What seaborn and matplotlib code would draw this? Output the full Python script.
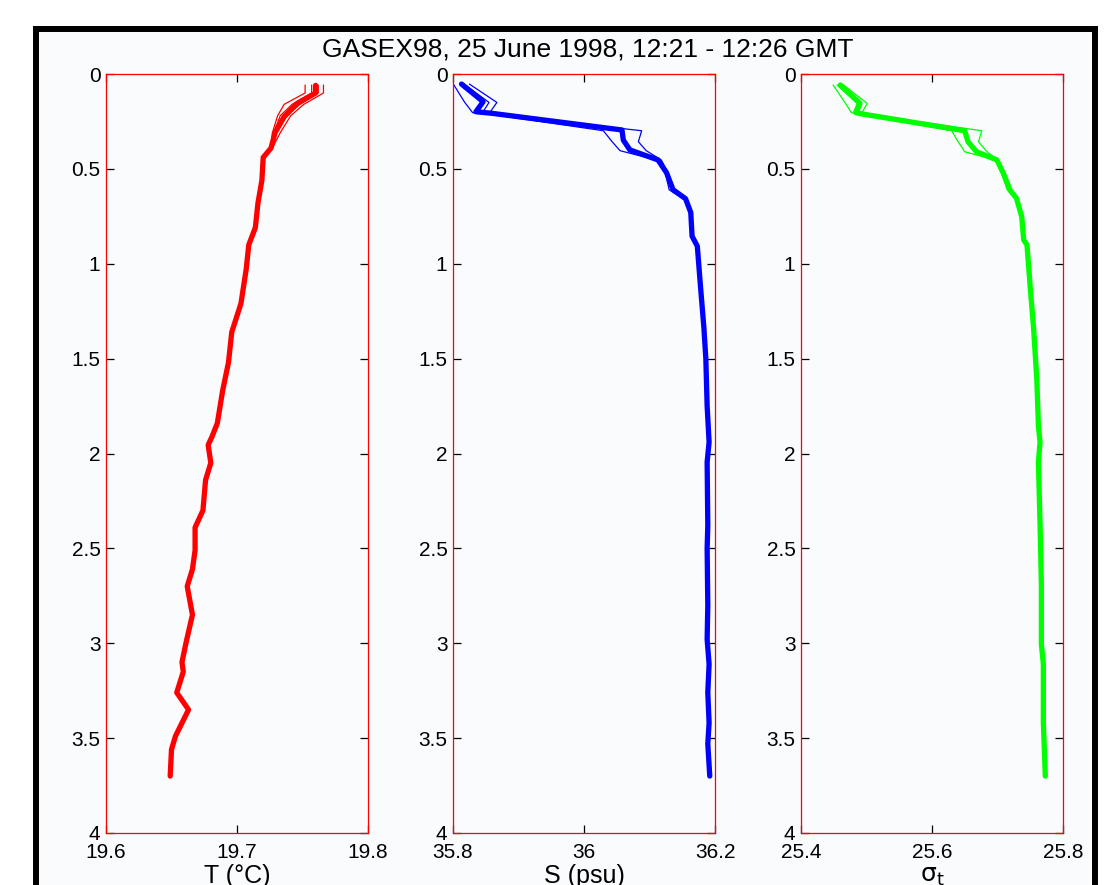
import numpy as np
import matplotlib
matplotlib.use("Agg")
import matplotlib.pyplot as plt
import matplotlib.patches as mpatches
from matplotlib.ticker import FuncFormatter
import seaborn as sns

# ---------------- data ----------------
title = "GASEX98, 25 June 1998, 12:21 - 12:26 GMT"

T_depth = [0.06, 0.10, 0.155, 0.225, 0.31, 0.39, 0.44, 0.56, 0.68, 0.81, 0.90, 1.03,
           1.21, 1.36, 1.52, 1.67, 1.84, 1.91, 1.955, 2.05, 2.14, 2.30, 2.39, 2.51,
           2.61, 2.70, 2.85, 3.00, 3.10, 3.15, 3.26, 3.35, 3.49, 3.56, 3.70]
T_mean = [19.760, 19.760, 19.746, 19.736, 19.729, 19.726, 19.720, 19.719, 19.716,
          19.714, 19.709, 19.707, 19.703, 19.696, 19.6935, 19.689, 19.685, 19.681,
          19.678, 19.680, 19.676, 19.674, 19.668, 19.668, 19.666, 19.662, 19.666,
          19.661, 19.658, 19.659, 19.654, 19.663, 19.653, 19.650, 19.649]
T_cast_depth = [0.058, 0.10, 0.16, 0.22, 0.31, 0.39, 0.44]
T_cast1 = [19.752, 19.752, 19.736, 19.731, 19.727, 19.726, 19.720]
T_cast2 = [19.766, 19.766, 19.751, 19.741, 19.733, 19.727, 19.720]
T_cast3 = [19.757, 19.757, 19.742, 19.733, 19.728, 19.725, 19.720]
T_cast4 = [19.762, 19.762, 19.748, 19.738, 19.730, 19.726, 19.720]

S_depth = [0.053, 0.146, 0.199, 0.207, 0.295, 0.348, 0.40, 0.453, 0.52, 0.61, 0.657,
           0.73, 0.855, 0.907, 1.126, 1.335, 1.50, 1.75, 1.94, 2.045, 2.38, 2.50,
           2.80, 2.98, 3.11, 3.26, 3.42, 3.53, 3.70]
S_mean = [35.813, 35.846, 35.835, 35.859, 36.058, 36.060, 36.070, 36.113, 36.126,
          36.136, 36.155, 36.163, 36.165, 36.173, 36.178, 36.183, 36.186, 36.188,
          36.191, 36.188, 36.189, 36.188, 36.189, 36.188, 36.191, 36.189, 36.191,
          36.189, 36.192]
S_cast_depth = [0.053, 0.15, 0.204, 0.21, 0.299, 0.357, 0.404, 0.453, 0.52, 0.61, 0.657]
S_castA = [35.8005, 35.818, 35.830, 35.853, 36.0295, 36.043, 36.055, 36.110, 36.124, 36.130, 36.151]
S_castB = [35.825, 35.867, 35.856, 35.860, 36.088, 36.083, 36.095, 36.118, 36.128, 36.138, 36.156]
S_castC = [35.817, 35.855, 35.845, 35.860, 36.058, 36.062, 36.075, 36.115, 36.126, 36.136, 36.155]

sig_depth = [0.058, 0.155, 0.204, 0.211, 0.299, 0.357, 0.41, 0.453, 0.523, 0.611, 0.655,
             0.752, 0.875, 0.90, 1.126, 1.335, 1.607, 1.857, 1.94, 2.045, 2.38, 2.69,
             3.005, 3.11, 3.42, 3.70]
sig_mean = [25.460, 25.490, 25.484, 25.494, 25.650, 25.655, 25.668, 25.699, 25.709,
            25.719, 25.729, 25.737, 25.740, 25.745, 25.750, 25.755, 25.760, 25.7625,
            25.765, 25.7625, 25.765, 25.767, 25.767, 25.770, 25.770, 25.773]
sig_cast_depth = [0.058, 0.155, 0.204, 0.211, 0.299, 0.357, 0.41, 0.453, 0.523, 0.611, 0.655]
sig_castA = [25.449, 25.468, 25.477, 25.490, 25.630, 25.640, 25.650, 25.697, 25.706, 25.715, 25.727]
sig_castB = [25.465, 25.501, 25.493, 25.497, 25.676, 25.671, 25.684, 25.701, 25.711, 25.721, 25.730]
sig_castC = [25.455, 25.486, 25.480, 25.492, 25.648, 25.653, 25.666, 25.698, 25.708, 25.718, 25.728]

x_limits = [(19.6, 19.8), (35.8, 36.2), (25.4, 25.8)]
x_ticks = [[19.6, 19.7, 19.8], [35.8, 36.0, 36.2], [25.4, 25.6, 25.8]]
x_labels = ["T (°C)", "S (psu)", r"$\mathrm{\sigma_t}$"]
y_ticks = [0, 0.5, 1, 1.5, 2, 2.5, 3, 3.5, 4]

# ---------------- style ----------------
sns.set_theme(style="white")
plt.rcParams["font.family"] = ["Liberation Sans", "DejaVu Sans"]
plt.rcParams["mathtext.fontset"] = "custom"
plt.rcParams["mathtext.rm"] = "DejaVu Sans"
plt.rcParams["mathtext.it"] = "DejaVu Sans"

bg = "#fafbfd"
fig = plt.figure(figsize=(11.2, 8.85), dpi=100)
fig.patch.set_facecolor("white")

# black frame (its bottom runs off the picture)
W, H = 1120.0, 885.0
frame = mpatches.Rectangle((36 / W, -0.05), (1095 - 36) / W, (H - 29) / H + 0.05,
                           transform=fig.transFigure, facecolor=bg, edgecolor="black",
                           linewidth=4.3, clip_on=False, zorder=-10)
fig.patches.append(frame)

fig.text(588 / W, 1 - 49 / H, title, ha="center", va="center", fontsize=19, color="black")

lefts = [106, 453, 801]
ax_w = 262 / W
ax_b = 1 - 833 / H
ax_h = (833 - 74) / H

panels = [
    (T_depth, T_mean, T_cast_depth, [T_cast1, T_cast2, T_cast3, T_cast4], "#ff0000"),
    (S_depth, S_mean, S_cast_depth, [S_castA, S_castB, S_castC], "#0000ff"),
    (sig_depth, sig_mean, sig_cast_depth, [sig_castA, sig_castB, sig_castC], "#00ff00"),
]

fmt = FuncFormatter(lambda v, p: ("%g" % v))

for i, (dep, mean, cdep, casts, col) in enumerate(panels):
    ax = fig.add_axes([lefts[i] / W, ax_b, ax_w, ax_h])
    ax.set_facecolor(bg)
    for c in casts:
        sns.lineplot(x=c, y=cdep, sort=False, estimator=None, ax=ax, color=col,
                     linewidth=0.9)
    sns.lineplot(x=mean, y=dep, sort=False, estimator=None, ax=ax, color=col,
                 linewidth=3.8)
    ax.set_xlim(*x_limits[i])
    ax.set_ylim(4, 0)
    ax.set_xticks(x_ticks[i])
    ax.set_yticks(y_ticks)
    ax.xaxis.set_major_formatter(fmt)
    ax.yaxis.set_major_formatter(fmt)
    ax.tick_params(axis="both", direction="in", length=6, width=0.9, color="black",
                   labelsize=15, labelcolor="black", top=True, right=True,
                   bottom=True, left=True)
    ax.tick_params(axis="x", pad=7)
    ax.tick_params(axis="y", pad=4)
    for s in ax.spines.values():
        s.set_color("#ff0000")
        s.set_linewidth(0.9)
        s.set_visible(True)
    ax.set_xlabel(x_labels[i], fontsize=18, labelpad=2, color="black")
    ax.set_ylabel("")
    ax.grid(False)

fig.savefig("out.png", dpi=100, facecolor="white")
